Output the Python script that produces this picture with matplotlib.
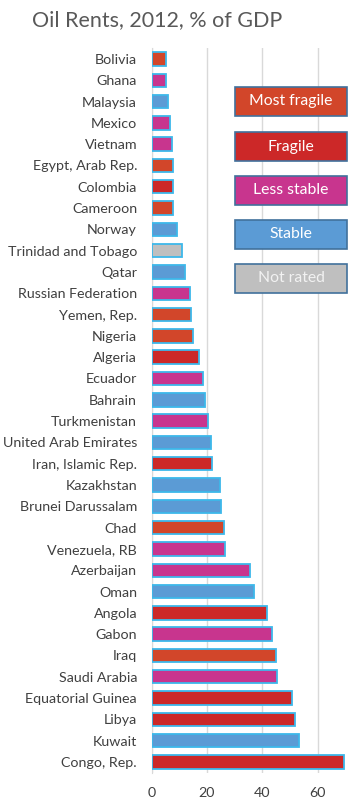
import matplotlib.pyplot as plt
from matplotlib.patches import FancyBboxPatch

plt.rcParams['font.family'] = ['Lato', 'DejaVu Sans']

# Daten (von oben nach unten)
countries = ['Bolivia', 'Ghana', 'Malaysia', 'Mexico', 'Vietnam', 'Egypt, Arab Rep.',
             'Colombia', 'Cameroon', 'Norway', 'Trinidad and Tobago', 'Qatar',
             'Russian Federation', 'Yemen, Rep.', 'Nigeria', 'Algeria', 'Ecuador',
             'Bahrain', 'Turkmenistan', 'United Arab Emirates', 'Iran, Islamic Rep.',
             'Kazakhstan', 'Brunei Darussalam', 'Chad', 'Venezuela, RB', 'Azerbaijan',
             'Oman', 'Angola', 'Gabon', 'Iraq', 'Saudi Arabia', 'Equatorial Guinea',
             'Libya', 'Kuwait', 'Congo, Rep.']
rents = [5.2, 5.2, 5.9, 6.7, 7.2, 7.8, 7.7, 7.7, 9.1, 11.0, 12.0, 13.7, 14.3, 15.1,
         17.0, 18.7, 19.2, 20.3, 21.6, 21.8, 24.6, 24.9, 26.3, 26.6, 35.5, 36.9,
         41.6, 43.6, 45.1, 45.5, 50.9, 51.7, 53.4, 69.6]
status = ['MF', 'LS', 'S', 'LS', 'LS', 'MF', 'F', 'MF', 'S', 'NR', 'S', 'LS', 'MF', 'MF',
          'F', 'LS', 'S', 'LS', 'S', 'F', 'S', 'S', 'MF', 'LS', 'LS', 'S', 'F', 'LS',
          'MF', 'LS', 'F', 'F', 'S', 'F']

legend_keys = ['MF', 'F', 'LS', 'S', 'NR']
legend_labels = ['Most fragile', 'Fragile', 'Less stable', 'Stable', 'Not rated']
colors = {'MF': '#D2462A', 'F': '#CC2828', 'LS': '#C8358E', 'S': '#5B9BD5', 'NR': '#BFBFBF'}

fig = plt.figure(figsize=(3.5, 7.99), dpi=100)
ax = fig.add_axes([0.4334, 0.033, 0.553, 0.9066])

y = list(range(len(countries)))
ax.barh(y, rents, height=0.63, color=[colors[s] for s in status],
        edgecolor='#3DB8EA', linewidth=1.3, zorder=3)

ax.set_ylim(len(countries) - 0.5, -0.5)
ax.set_xlim(0, 70)
ax.set_xticks([0, 20, 40, 60])
ax.set_yticks(y)
ax.set_yticklabels(countries)
ax.tick_params(axis='y', length=0, pad=10.5, labelsize=10.3, labelcolor='#404040')
ax.tick_params(axis='x', length=0, pad=10, labelsize=10.3, labelcolor='#404040')
ax.grid(axis='x', color='#D9D9D9', linewidth=1.0, zorder=0)
for side in ['top', 'right', 'bottom']:
    ax.spines[side].set_visible(False)
ax.spines['left'].set_color('#D9D9D9')

fig.text(0.09, 0.975, 'Oil Rents, 2012, % of GDP', fontsize=15.5, color='#595959',
         ha='left', va='center')

# Legende als Kaesten
bx0, bw, bh = 235 / 350, 112 / 350, 29 / 799
tops = [87, 132, 176, 220, 264]
for k, lab, t in zip(legend_keys, legend_labels, tops):
    yb = 1 - (t + 29) / 799
    fig.patches.append(FancyBboxPatch((bx0, yb), bw, bh, boxstyle='square,pad=0',
                                      transform=fig.transFigure, facecolor=colors[k],
                                      edgecolor='#41719C', linewidth=1.2))
    fig.text(bx0 + bw / 2, yb + bh / 2, lab, color='white' if k != 'NR' else '#F2F2F2',
             fontsize=11.3, ha='center', va='center')

fig.savefig('out.png', dpi=100)
